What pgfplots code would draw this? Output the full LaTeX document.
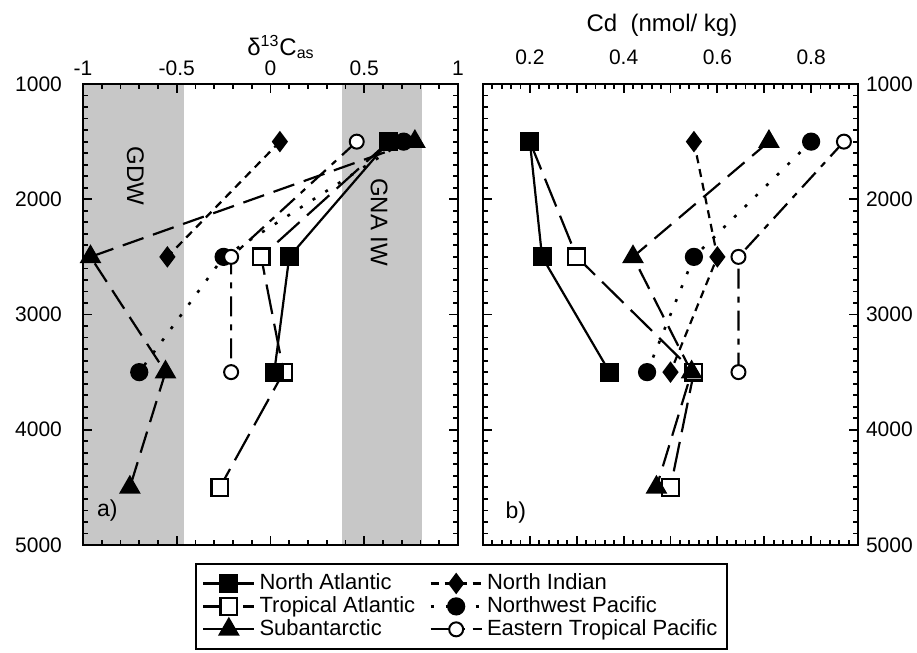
\documentclass[border=0pt]{standalone}
\usepackage{fontspec}
\setmainfont{Liberation Sans}
\usepackage{pgfplots}
\pgfplotsset{compat=1.18}

\pgfplotsset{
  panel/.style={
    scale only axis, width=187.5pt, height=230.5pt,
    y dir=reverse, ymin=1000, ymax=5000,
    ytick={1000,2000,3000,4000,5000},
    yticklabels={1000,2000,3000,4000,5000},
    minor y tick num=9,
    xtick pos=both, ytick pos=both,
    xticklabel pos=upper,
    axis line style={line width=1.3pt},
    every tick/.style={black, line width=0.9pt},
    major tick length=4.5pt, minor tick length=2.5pt,
    tick label style={font=\fontsize{10.5}{12}\selectfont},
    axis on top,
    clip=false,
  },
  sNA/.style={black, line width=1.1pt, mark=square*, mark size=4.2pt, mark options={solid, fill=black}},
  sTA/.style={black, line width=1.1pt, dash pattern=on 15pt off 5pt, mark=square*, mark size=4.2pt, mark options={solid, fill=white}},
  sSA/.style={black, line width=1.1pt, dash pattern=on 11pt off 5pt, mark=triangle*, mark size=5.2pt, mark options={solid, fill=black}},
  sNI/.style={black, line width=1.1pt, dash pattern=on 4pt off 3pt, mark=diamond*, mark size=4.5pt, mark options={solid, fill=black}},
  sNWP/.style={black, line width=1.3pt, dash pattern=on 1.5pt off 6pt, mark=*, mark size=3.9pt, mark options={solid, fill=black}},
  sETP/.style={black, line width=1.1pt, dash pattern=on 10pt off 4pt on 3pt off 4pt, mark=*, mark size=3.5pt, mark options={solid, fill=white, line width=1pt}},
  band/.style={fill=black!22, draw=none, forget plot},
}

\begin{document}
\begin{tikzpicture}
\path[use as bounding box] (0,0) rectangle (458.5pt,-326.5pt);

% panel a
\begin{axis}[panel,
  at={(41.5pt,-272.5pt)}, anchor=south west,
  xmin=-1, xmax=1,
  xtick={-1,-0.5,0,0.5,1},
  xticklabels={-1,-0.5,0,0.5,1},
  minor x tick num=4,
  yticklabel pos=left,
  xticklabel style={yshift=0.5pt},
  yticklabel style={xshift=-7pt},
  legend columns=2,
  legend cell align=left,
  legend image code/.code={\draw[mark repeat=2,mark phase=2] plot coordinates {(0cm,0cm) (0.45cm,0cm) (0.9cm,0cm)};},
  legend style={at={(1.01,-0.039)}, anchor=north, draw=black, line width=1pt,
    font=\fontsize{11}{12}\selectfont, inner sep=3pt,
    row sep=-2pt,
    /tikz/every even column/.style={column sep=5pt}},
]
\addlegendimage{sNA}
\addlegendentry{North Atlantic}
\addlegendimage{sNI}
\addlegendentry{North Indian}
\addlegendimage{sTA}
\addlegendentry{Tropical Atlantic}
\addlegendimage{sNWP}
\addlegendentry{Northwest Pacific}
\addlegendimage{sSA}
\addlegendentry{Subantarctic}
\addlegendimage{sETP}
\addlegendentry{Eastern Tropical Pacific}

\addplot[band] coordinates {(-1,1000) (-0.46,1000) (-0.46,5000) (-1,5000)} -- cycle;
\addplot[band] coordinates {(0.38,1000) (0.81,1000) (0.81,5000) (0.38,5000)} -- cycle;

\addplot[sSA, forget plot] coordinates {(0.77,1500) (-0.96,2500) (-0.56,3500) (-0.75,4500)};
\addplot[sNWP, forget plot] coordinates {(0.71,1500) (-0.25,2500) (-0.70,3500)};
\addplot[sETP, forget plot] coordinates {(0.46,1500) (-0.21,2500) (-0.21,3500)};
\addplot[sNI, forget plot] coordinates {(0.05,1500) (-0.55,2500)};
\addplot[sTA, forget plot] coordinates {(0.63,1500) (-0.05,2500) (0.07,3500) (-0.27,4500)};
\addplot[sNA, forget plot] coordinates {(0.63,1500) (0.10,2500) (0.02,3500)};

\node[rotate=-90, font=\fontsize{12}{14}\selectfont] at (axis cs:-0.72,1800) {GDW};
\node[rotate=-90, font=\fontsize{12}{14}\selectfont] at (axis cs:0.58,2200) {GNA IW};
\node[font=\fontsize{11.5}{13}\selectfont] at (axis cs:-0.87,4700) {a)};
\end{axis}

% panel b
\begin{axis}[panel,
  at={(241.5pt,-272.5pt)}, anchor=south west,
  xmin=0.1, xmax=0.9,
  xtick={0.1,0.2,0.3,0.4,0.5,0.6,0.7,0.8,0.9},
  xticklabels={,0.2,,0.4,,0.6,,0.8,},
  minor x tick num=4,
  yticklabel pos=right,
  xticklabel style={yshift=6pt},
  yticklabel style={xshift=0.5pt},
]
\addplot[sTA] coordinates {(0.20,1500) (0.30,2500) (0.55,3500) (0.50,4500)};
\addplot[sNA] coordinates {(0.20,1500) (0.226,2500) (0.37,3500)};
\addplot[sNI] coordinates {(0.55,1500) (0.60,2500) (0.50,3500)};
\addplot[sNWP] coordinates {(0.80,1500) (0.55,2500) (0.45,3500)};
\addplot[sSA] coordinates {(0.71,1500) (0.42,2500) (0.545,3500) (0.47,4500)};
\addplot[sETP] coordinates {(0.87,1500) (0.645,2500) (0.645,3500)};
\node[font=\fontsize{11.5}{13}\selectfont] at (axis cs:0.17,4720) {b)};
\end{axis}

\node[anchor=base, font=\fontsize{12}{14}\selectfont] at (140.5pt,-27.5pt) {δ\textsuperscript{13}C\textsubscript{as}};
\node[anchor=base, font=\fontsize{12}{14}\selectfont] at (331pt,-16pt) {Cd\ \ (nmol/ kg)};
\end{tikzpicture}
\end{document}
